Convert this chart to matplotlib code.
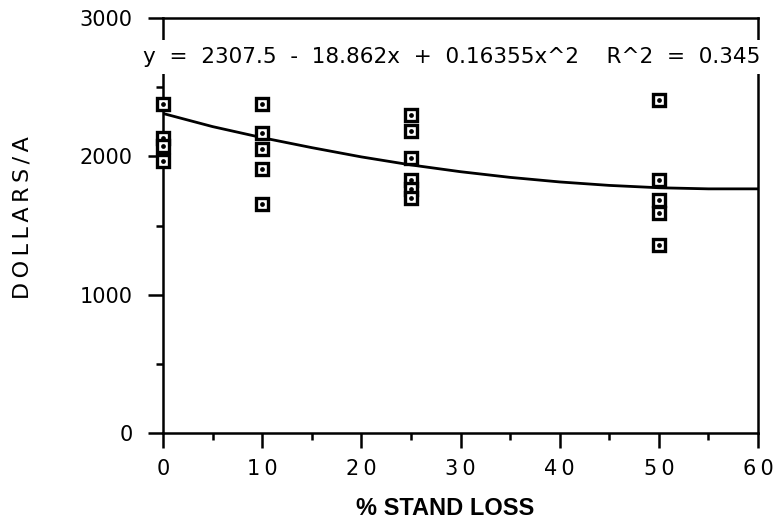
import numpy as np
from matplotlib import pyplot as plt

# observed points (% stand loss, dollars per acre)
loss = [0, 0, 0, 0,
        10, 10, 10, 10, 10,
        25, 25, 25, 25, 25, 25,
        50, 50, 50, 50, 50]
dollars = [2380, 2130, 2075, 1970,
           2380, 2170, 2050, 1910, 1655,
           2300, 2180, 1985, 1830, 1765, 1700,
           2410, 1830, 1685, 1590, 1360]

# fitted curve
curve_x = [0, 5, 10, 15, 20, 25, 30, 35, 40, 45, 50, 55, 60]
curve_y = [2310, 2215, 2135, 2063, 1996, 1938, 1889, 1848, 1815, 1790, 1773, 1765, 1765]

xticks = [0, 10, 20, 30, 40, 50, 60]
xlabels = ['0', '1\u20090', '2\u20090', '3\u20090', '4\u20090', '5\u20090', '6\u20090']
yticks = [0, 1000, 2000, 3000]
eq_text = "y  =  2307.5  -  18.862x  +  0.16355x^2    R^2  =  0.345"

plt.rcParams['font.family'] = 'DejaVu Sans'

fig = plt.figure(figsize=(7.77, 5.21), dpi=100)
ax = fig.add_axes([0.2098, 0.1689, 0.7658, 0.7965])

ax.plot(curve_x, curve_y, color='black', lw=2, zorder=2)
ax.plot(loss, dollars, 's', ms=8, mfc='white', mec='black', mew=2.4, zorder=5, clip_on=False)
ax.plot(loss, dollars, 'o', ms=2.4, color='black', zorder=6, clip_on=False)

ax.set_xlim(0, 60)
ax.set_ylim(0, 3000)
ax.set_xticks(xticks)
ax.set_xticklabels(xlabels)
ax.set_xticks(np.arange(5, 60, 10), minor=True)
ax.set_yticks(yticks)
ax.set_yticks([500, 1500, 2500], minor=True)

for s in ax.spines.values():
    s.set_linewidth(1.8)
ax.tick_params(which='major', direction='out', length=11, width=1.8, labelsize=15)
ax.tick_params(which='minor', direction='out', length=5, width=1.8)
ax.tick_params(axis='x', pad=8)
ax.tick_params(axis='y', pad=11)

ax.set_xlabel('% STAND LOSS', fontsize=17, fontweight='bold', family='Liberation Sans')
ax.xaxis.set_label_coords(0.474, -0.154)
ax.set_ylabel('D\u2009O\u2009L\u2009L\u2009A\u2009R\u2009S\u2009/\u2009A', fontsize=16)
ax.yaxis.set_label_coords(-0.220, 0.519)

fig.text(143 / 777, 1 - 57 / 521, eq_text, fontsize=15.5, va='center', ha='left',
         bbox=dict(facecolor='white', edgecolor='none', pad=5), zorder=10)

plt.savefig('out.png', dpi=100)
